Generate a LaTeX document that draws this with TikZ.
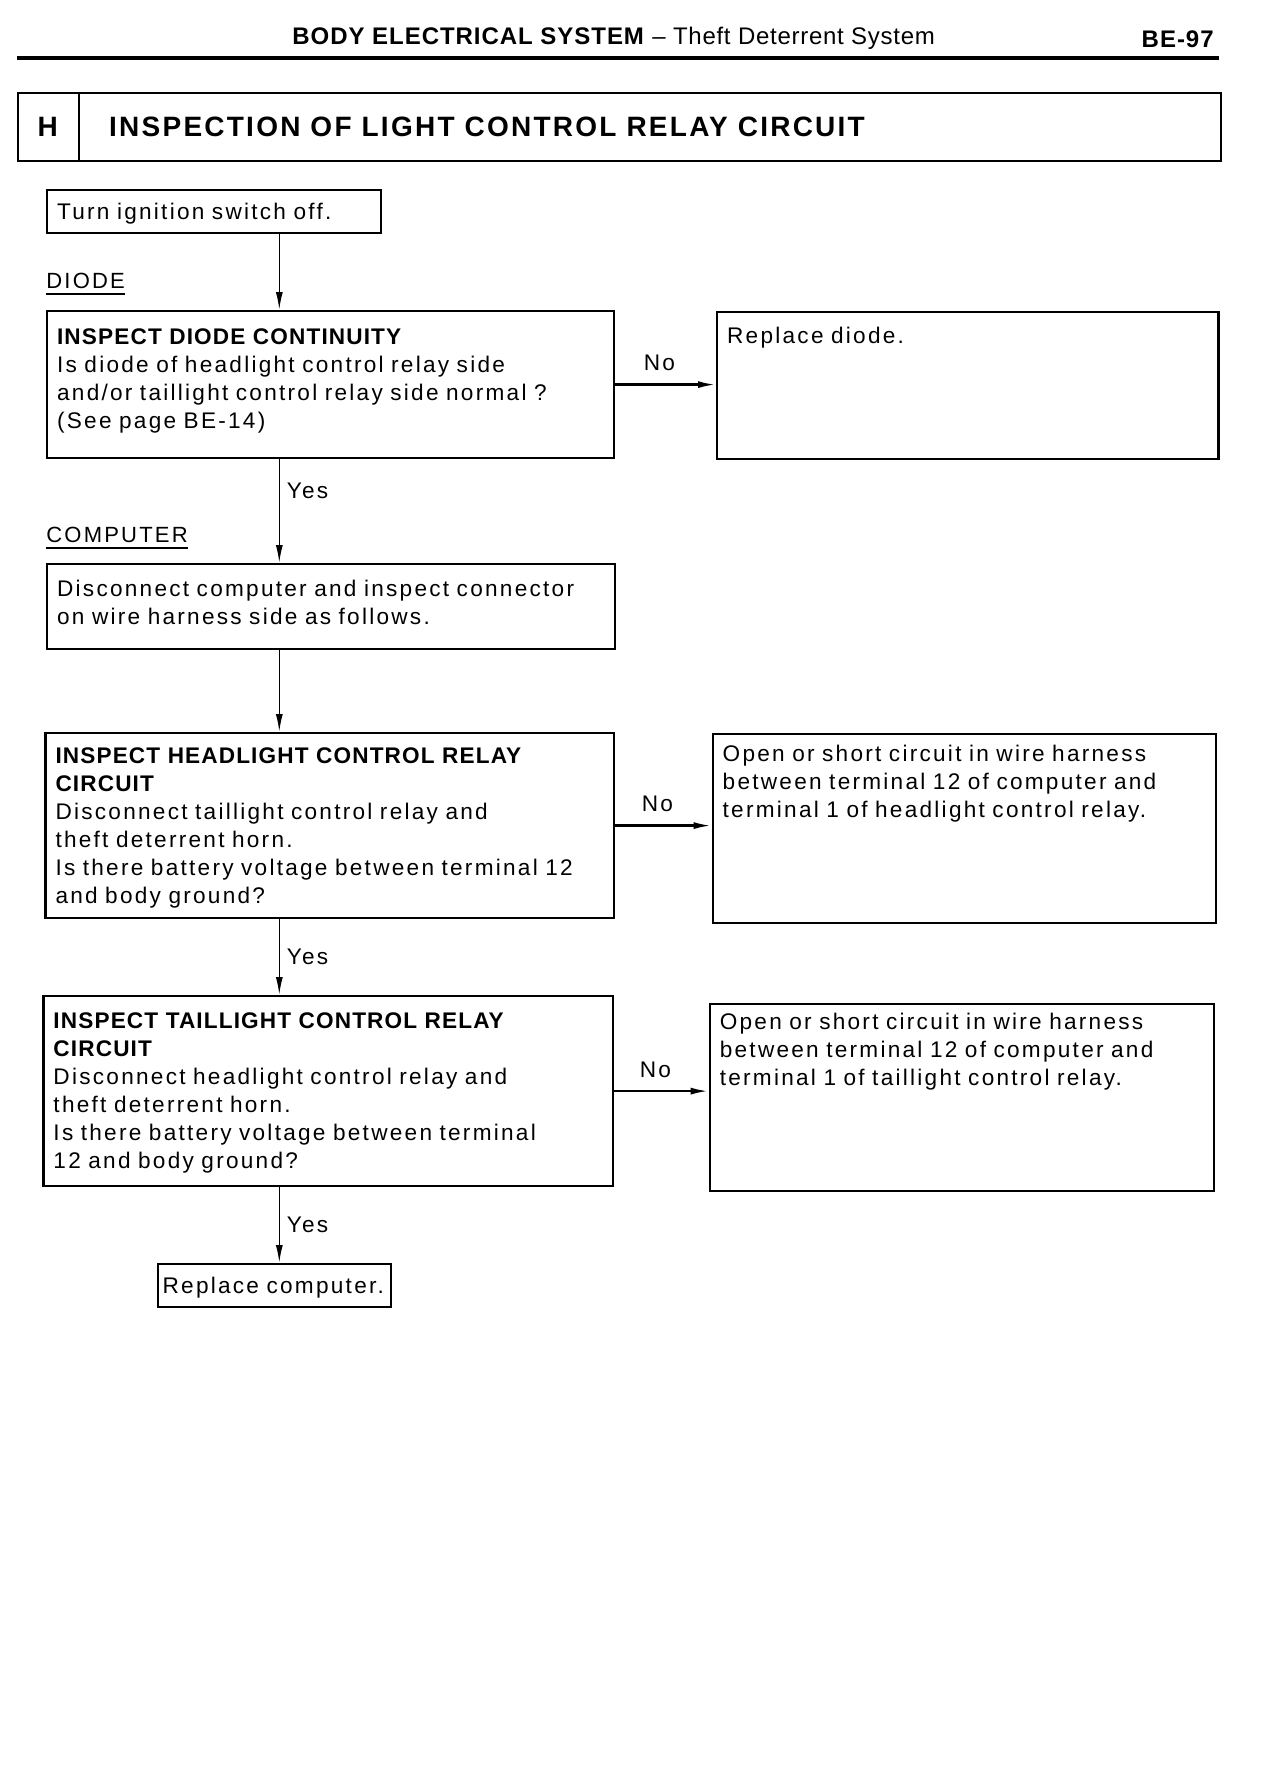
\documentclass[tikz,border=0pt]{standalone}
\usepackage{fontspec}
\setmainfont{Liberation Sans}[LetterSpace=10.0,BoldFeatures={LetterSpace=5.0}]
\newfontfamily\headfont{Liberation Sans}[LetterSpace=3.0,BoldFeatures={LetterSpace=4.0}]
\newfontfamily\titlefont{Liberation Sans}[LetterSpace=8.0]
\usetikzlibrary{positioning,arrows.meta}
\tikzset{
  chk/.style n args={3}{draw, line width=1.1pt, anchor=north west, align=left,
    inner xsep=5pt, inner ysep=0pt, text width=#1, text height=#2, text depth=#3},
  flow/.style={line width=0.8pt, -{Latex[length=9pt,width=3.5pt]}},
  sect/.style={anchor=base west, inner sep=0pt, font=\fontsize{11pt}{14pt}\selectfont},
}
\begin{document}
\begin{tikzpicture}[x=0.5pt,y=-0.5pt,font=\fontsize{11.3pt}{14pt}\selectfont]
  \fill[white] (0,0) rectangle (1280,1782);
  % page head
  \node[anchor=base west, inner sep=0pt, font=\headfont\fontsize{12pt}{14pt}\selectfont] (pghead) at (292,45) {\textbf{BODY ELECTRICAL SYSTEM} – Theft Deterrent System};
  \node[anchor=base east, inner sep=0pt, font=\headfont\bfseries\fontsize{12pt}{14pt}\selectfont] (pgno) at (1214,48) {BE-97};
  \draw[line width=2pt] (17,58) -- (1219,58);
  % section title
  \node[draw, line width=1.1pt, anchor=north west, minimum width=601.6pt, minimum height=34pt, inner sep=0pt] (sec) at (17,92) {};
  \draw[line width=1.1pt] ([xshift=31.1pt]sec.north west) -- ([xshift=31.1pt]sec.south west);
  \node[font=\titlefont\bfseries\fontsize{14pt}{16pt}\selectfont] (secid) at ([xshift=15.4pt]sec.west) {H};
  \node[anchor=west, inner sep=0pt, font=\titlefont\bfseries\fontsize{14pt}{16pt}\selectfont] (sectitle) at ([xshift=45.9pt]sec.west) {INSPECTION OF LIGHT CONTROL RELAY CIRCUIT};
  % boxes
  \node[chk={156.8pt}{14.5pt}{7pt}] (ign) at (46,189) {Turn ignition switch off.};
  \node[chk={273.3pt}{16.5pt}{57pt}] (diode) at (46,310) {\textbf{INSPECT DIODE CONTINUITY}\\Is diode of headlight control relay side\\and/or taillight control relay side normal ?\\(See page BE-14)};
  \node[chk={240.7pt}{15.5pt}{58pt}] (repdiode) at (716,311) {Replace diode.};
  \node[chk={273.8pt}{16pt}{26.5pt}] (comp) at (46,563) {Disconnect computer and inspect connector\\on wire harness side as follows.};
  \node[chk={274.3pt}{15pt}{77.5pt}] (hlr) at (44.4,732) {\textbf{INSPECT HEADLIGHT CONTROL RELAY}\\\textbf{CIRCUIT}\\Disconnect taillight control relay and\\theft deterrent horn.\\Is there battery voltage between terminal 12\\and body ground?};
  \node[chk={241.7pt}{13.5pt}{81pt}] (hlrfix) at (711.6,733) {Open or short circuit in wire harness\\between terminal 12 of computer and\\terminal 1 of headlight control relay.};
  \node[chk={274.7pt}{16pt}{79pt}] (tlr) at (42.4,995) {\textbf{INSPECT TAILLIGHT CONTROL RELAY}\\\textbf{CIRCUIT}\\Disconnect headlight control relay and\\theft deterrent horn.\\Is there battery voltage between terminal\\12 and body ground?};
  \node[chk={242.2pt}{12.5pt}{81pt}] (tlrfix) at (708.7,1003) {Open or short circuit in wire harness\\between terminal 12 of computer and\\terminal 1 of taillight control relay.};
  \node[chk={112pt}{14.5pt}{7pt}, inner xsep=2.25pt] (repcomp) at (157,1263) {Replace computer.};
  % part labels
  \node[sect] (lbldiode) at ([yshift=11pt]diode.north west) {DIODE};
  \node[sect] (lblcomp) at ([yshift=10.5pt]comp.north west) {COMPUTER};
  \foreach \l in {lbldiode,lblcomp}
    \draw[line width=1pt] ([yshift=-3pt]\l.base west) -- ([yshift=-3pt]\l.base east);
  % connectors
  \coordinate (spine) at (279.3,0);
  \draw[flow] (ign.south -| spine) -- (diode.north -| spine);
  \draw[flow] (diode.south -| spine) -- node[pos=0.3, right] (yes1) {Yes} (comp.north -| spine);
  \draw[flow] (comp.south -| spine) -- (hlr.north -| spine);
  \draw[flow] (hlr.south -| spine) -- node[right] (yes2) {Yes} (tlr.north -| spine);
  \draw[flow] (tlr.south -| spine) -- node[right] (yes3) {Yes} (repcomp.north -| spine);
  \foreach \a/\b in {diode/repdiode, hlr/hlrfix, tlr/tlrfix}
    \draw[flow, line width=1.2pt] (\a.east) -- node[above=3pt, xshift=-3pt] (no\a) {No} (\a.east -| \b.west);
\end{tikzpicture}
\end{document}
